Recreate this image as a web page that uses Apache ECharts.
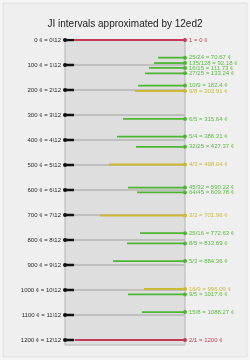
<!DOCTYPE html>
<html>
<head>
<meta charset="utf-8">
<script src="https://cdn.jsdelivr.net/npm/echarts@6/dist/echarts.min.js"></script>
<style>
html,body{margin:0;padding:0;background:#f4f4f4;}
#chart{width:250px;height:360px;}
</style>
</head>
<body>
<div id="chart"></div>
<script>
// 12ed2 steps (cents) and their tick labels
const stepCents = [0,100,200,300,400,500,600,700,800,900,1000,1100,1200];
const stepLabels = ['0 ¢ = 0\\12','100 ¢ = 1\\12','200 ¢ = 2\\12','300 ¢ = 3\\12','400 ¢ = 4\\12','500 ¢ = 5\\12','600 ¢ = 6\\12','700 ¢ = 7\\12','800 ¢ = 8\\12','900 ¢ = 9\\12','1000 ¢ = 10\\12','1100 ¢ = 11\\12','1200 ¢ = 12\\12'];

// JI intervals
const jiNames  = ['1','25/24','135/128','16/15','27/25','10/9','9/8','6/5','5/4','32/25','4/3','45/32','64/45','3/2','25/16','8/5','5/3','16/9','9/5','15/8','2/1'];
const jiCents  = [0,70.67,92.18,111.73,133.24,182.4,203.91,315.64,386.31,427.37,498.04,590.22,609.78,701.96,772.63,813.69,884.36,996.09,1017.6,1088.27,1200];
const jiCentText = ['0','70.67','92.18','111.73','133.24','182.4','203.91','315.64','386.31','427.37','498.04','590.22','609.78','701.96','772.63','813.69','884.36','996.09','1017.6','1088.27','1200'];
const jiStart  = [8,93,89,84,80,73,70,58,52,71,44,63,72,35,75,62,48,79,63,77,10];
const jiKind   = ['r','g','g','g','g','g','y','g','g','g','y','g','g','y','g','g','g','y','g','g','r'];

const lineColors = {r:'#c23a55', g:'#4cb632', y:'#cbb934'};
const textColors = {r:'#c23a55', g:'#5cbc42', y:'#cbb940'};

const FONT = 'Liberation Sans, Arial, sans-serif';
const series = [];

stepCents.forEach(function(c){
  series.push({type:'line', silent:true, animation:false, z:1,
    data:[[0,c],[120,c]], symbol:'none',
    lineStyle:{color:'#bfbfbf', width:2}});
});

jiCents.forEach(function(c,i){
  const k = jiKind[i];
  series.push({type:'line', silent:true, animation:false, z:3,
    data:[{value:[jiStart[i],c], symbol:'none'},
          {value:[120,c], symbol:'circle', symbolSize:4,
           label:{show:true, position:'right', distance:2, color:textColors[k], fontSize:6, fontFamily:FONT,
                  formatter: jiNames[i] + ' = ' + jiCentText[i] + ' ¢'}}],
    lineStyle:{color:lineColors[k], width:1.8},
    itemStyle:{color:lineColors[k]}});
});

stepCents.forEach(function(c,i){
  series.push({type:'line', silent:true, animation:false, z:5,
    data:[{value:[0,c], symbol:'circle', symbolSize:4,
           label:{show:true, position:'left', distance:2, color:'#2a2a2a', fontSize:6, fontFamily:FONT,
                  formatter: stepLabels[i]}},
          {value:[9,c], symbol:'none'}],
    lineStyle:{color:'#111', width:2.5},
    itemStyle:{color:'#111'}});
});

const chart = echarts.init(document.getElementById('chart'), null, {renderer:'canvas'});
chart.setOption({
  backgroundColor:'#f6f6f6',
  animation:false,
  graphic:[{type:'rect', z:-10, silent:true, shape:{x:3, y:3, width:244, height:354},
    style:{fill:'#efefef', stroke:'#e2e2e2', lineWidth:1}}],
  title:{text:'JI intervals approximated by 12ed2', left:'center', top:14,
    textStyle:{fontSize:10, fontWeight:'normal', color:'#222', fontFamily:FONT}},
  grid:{left:65, width:120, top:40, height:305, show:true, backgroundColor:'#dedede', borderColor:'#b4b4b4', borderWidth:1},
  xAxis:{type:'value', min:0, max:120, show:false},
  yAxis:{type:'value', min:0, max:1220, inverse:true, show:false},
  series: series
});
</script>
</body>
</html>
